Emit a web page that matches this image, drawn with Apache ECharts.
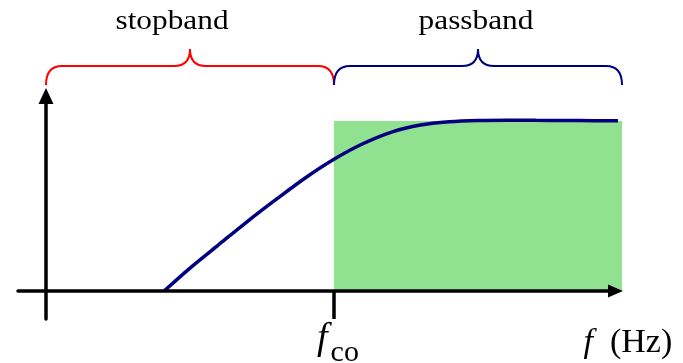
<!DOCTYPE html>
<html><head><meta charset="utf-8">
<script src="https://cdn.jsdelivr.net/npm/echarts@6/dist/echarts.min.js"></script>
<style>html,body{margin:0;padding:0;background:#fff}#c{width:683px;height:363px}</style>
</head><body><div id="c"></div>
<script>
// ---- data ----
const freq = [2.05, 2.5, 3.0, 3.5, 4.0, 4.5, 5.0, 5.5, 6.0, 6.5, 7.0, 7.5, 8.0, 8.5, 9.0, 9.5, 10];
const gain = [0, 0.135, 0.273, 0.41, 0.54, 0.665, 0.775, 0.866, 0.935, 0.976, 0.995, 1.003, 1.005, 1.004, 1.003, 1.002, 1.002];
const cutoff = 5;
const fMax = 10;
const passLevel = 1;
const bandNames = ['stopband', 'passband'];
const bandStart = [0, 5];
const bandEnd = [5, 10];
const cutoffSymbol = 'f';
const cutoffSub = 'co';
const axisVar = 'f';
const axisUnit = '(Hz)';

// ---- layout / style ----
const X_MIN = -0.486, X_MAX = 9.887, Y_MIN = -0.1647, Y_MAX = 1.147;
const BRACE_LEVEL = 1.212;
const SERIF = '"Liberation Serif", "Times New Roman", serif';
const braceColors = ['#ff0000', '#000080'];
const labelShift = [-18, -2];
const GREEN = '#90e290';
const NAVY = '#000080';

const chart = echarts.init(document.getElementById('c'), null, {renderer: 'canvas'});

const option = {
  animation: false,
  backgroundColor: '#fff',
  grid: {left: 18, right: 67.5, top: 96, bottom: 44, containLabel: false, outerBoundsMode: 'none'},
  xAxis: {
    type: 'value', min: X_MIN, max: X_MAX, z: 10,
    axisLine: {show: true, onZero: true, symbol: ['none', 'triangle'], symbolSize: [13, 15],
      lineStyle: {color: '#000', width: 3.5}},
    axisTick: {show: true, customValues: [cutoff], length: 28, inside: false,
      lineStyle: {color: '#000', width: 3.5}},
    axisLabel: {show: true, customValues: [cutoff], margin: 1,
      formatter: () => '{f|' + cutoffSymbol + '}{co|' + cutoffSub + '}',
      rich: {
        f: {fontFamily: SERIF, fontStyle: 'italic', fontSize: 38, color: '#000', verticalAlign: 'top', padding: [0, 3, 0, 8]},
        co: {fontFamily: SERIF, fontSize: 30, color: '#000', verticalAlign: 'top', padding: [18, 0, 0, 0]}
      }},
    splitLine: {show: false},
    name: '{i|' + axisVar + '}{u|' + axisUnit + '}',
    nameLocation: 'end', nameGap: -32,
    nameTextStyle: {align: 'left', verticalAlign: 'top', padding: [35, 0, 0, 0],
      rich: {
        i: {fontFamily: SERIF, fontStyle: 'italic', fontSize: 34, color: '#000', padding: [0, 17, 0, 0]},
        u: {fontFamily: SERIF, fontSize: 34, color: '#000'}
      }}
  },
  yAxis: {
    type: 'value', min: Y_MIN, max: Y_MAX, z: 10,
    axisLine: {show: true, onZero: true, symbol: ['none', 'triangle'], symbolSize: [15, 16],
      lineStyle: {color: '#000', width: 3.5}},
    axisTick: {show: false}, axisLabel: {show: false}, splitLine: {show: false}
  },
  series: [
    {
      type: 'custom', z: 1, clip: false, silent: true,
      data: [[cutoff, fMax, passLevel]],
      renderItem: (params, api) => {
        const a = api.coord([api.value(0), api.value(2)]);
        const b = api.coord([api.value(1), 0]);
        return {type: 'rect', shape: {x: a[0], y: a[1], width: b[0] - a[0], height: b[1] - a[1]},
          style: {fill: GREEN}};
      }
    },
    {
      type: 'line', z: 5, clip: false, smooth: 0.3, showSymbol: false, silent: true,
      data: freq.map((f, i) => [f, gain[i]]),
      lineStyle: {color: NAVY, width: 3.5}
    },
    {
      type: 'custom', z: 6, clip: false, silent: true,
      data: bandStart.map((s, i) => [s, bandEnd[i], BRACE_LEVEL]),
      renderItem: (params, api) => {
        const i = params.dataIndex;
        const p0 = api.coord([api.value(0), api.value(2)]);
        const p1 = api.coord([api.value(1), api.value(2)]);
        const yb = p0[1], yh = yb - 19, yp = yb - 36;
        const x0 = p0[0], x1 = p1[0], xc = (x0 + x1) / 2, r = 16, r2 = 16;
        const d = 'M' + x0 + ',' + yb + ' Q' + x0 + ',' + yh + ' ' + (x0 + r) + ',' + yh +
          ' L' + (xc - r2) + ',' + yh + ' Q' + xc + ',' + yh + ' ' + xc + ',' + yp +
          ' Q' + xc + ',' + yh + ' ' + (xc + r2) + ',' + yh +
          ' L' + (x1 - r) + ',' + yh + ' Q' + x1 + ',' + yh + ' ' + x1 + ',' + yb;
        return {type: 'group', children: [
          {type: 'path', shape: {pathData: d},
            style: {stroke: braceColors[i], fill: null, lineWidth: 2}},
          {type: 'text', x: xc + labelShift[i], y: yb - 63, scaleX: 1.16,
            style: {text: bandNames[i], fill: '#000', font: '27px ' + SERIF,
              align: 'center', verticalAlign: 'middle'}}
        ]};
      }
    }
  ]
};
chart.setOption(option);
</script></body></html>
